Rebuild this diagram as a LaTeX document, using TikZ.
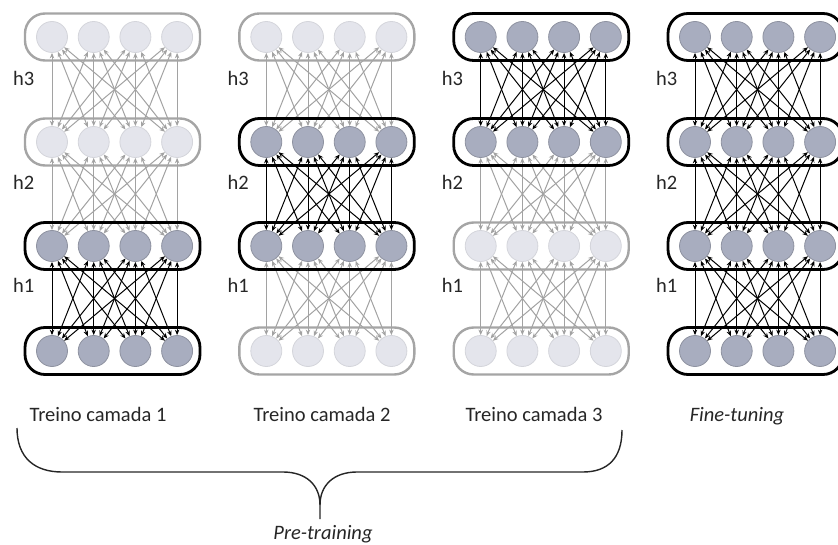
\documentclass[tikz,border=0pt]{standalone}
\usepackage{fontspec}
\setmainfont{Carlito}
\usetikzlibrary{arrows.meta}
\definecolor{actfill}{HTML}{A8ADBF}
\definecolor{actdraw}{HTML}{8E92A0}
\definecolor{fadefill}{HTML}{E4E5EC}
\definecolor{fadedraw}{HTML}{D4D5DB}
\definecolor{fadeline}{HTML}{A2A2A2}
\definecolor{fadebox}{HTML}{A5A5A5}
\definecolor{txt}{HTML}{262626}
\pgfdeclarelayer{background}
\pgfsetlayers{background,main}
\begin{document}
\begin{tikzpicture}[x=1pt,y=-1pt,
  neuron/.style={circle,minimum size=31pt,inner sep=0pt,line width=0.8pt},
  nda/.style={fill=actfill,draw=actdraw},
  ndf/.style={fill=fadefill,draw=fadedraw},
  ndst/.code={\ifnum#1=1\relax\pgfkeysalso{nda}\else\pgfkeysalso{ndf}\fi},
  layerbox/.style={rectangle,rounded corners=20pt,minimum width=175pt,minimum height=47pt,inner sep=0pt},
  bxa/.style={draw=black,line width=2.8pt},
  bxf/.style={draw=fadebox,line width=2.4pt},
  bxst/.code={\ifnum#1=1\relax\pgfkeysalso{bxa}\else\pgfkeysalso{bxf}\fi},
  lna/.style={draw=black,line width=1pt,{Stealth[length=5.5pt,width=4.5pt]}-{Stealth[length=5.5pt,width=4.5pt]}},
  lnf/.style={draw=fadeline,line width=1pt,{Stealth[length=5.5pt,width=4.5pt]}-{Stealth[length=5.5pt,width=4.5pt]}},
  lnst/.code 2 args={\ifnum#1#2=11\relax\pgfkeysalso{lna}\else\pgfkeysalso{lnf}\fi},
  hlab/.style={anchor=west,inner sep=0pt,font=\fontsize{20.5}{24}\selectfont,text=txt},
  caption/.style={anchor=base,inner sep=0pt,font=\fontsize{20.5}{24}\selectfont,text=txt},
  brace/.style={draw=black!85,line width=1.4pt}
]
\useasboundingbox (0,0) rectangle (838,545);

\foreach \c/\L/\A/\B/\C/\D in {1/25/0/0/1/1, 2/239.3/0/1/1/0, 3/453.7/1/1/0/0, 4/668/1/1/1/1}{
  \foreach \r/\y/\s in {1/37/\A, 2/142/\B, 3/246/\C, 4/351/\D}{
    \node[layerbox,bxst=\s] (b-\c-\r) at (\L+87.5,\y) {};
    \foreach \i in {1,...,4}{
      \node[neuron,ndst=\s] (n-\c-\r-\i) at ({\L+27+41.7*(\i-1)},\y) {};
    }
  }
  \begin{pgfonlayer}{background}
  \foreach \r/\rr/\s/\ss in {1/2/\A/\B, 2/3/\B/\C, 3/4/\C/\D}{
    \foreach \i in {1,...,4}{
      \foreach \j in {1,...,4}{
        \draw[lnst={\s}{\ss}] (n-\c-\r-\i) -- (n-\c-\rr-\j);
      }
    }
  }
  \end{pgfonlayer}
  \node[hlab] (h3-\c) at (\L-12,78) {h3};
  \node[hlab] (h2-\c) at (\L-12,182) {h2};
  \node[hlab] (h1-\c) at (\L-12,285) {h1};
}

\node[caption] (t1) at (98,421) {Treino camada 1};
\node[caption] (t2) at (322,421) {Treino camada 2};
\node[caption] (t3) at (534,421) {Treino camada 3};
\node[caption] (t4) at (737,421) {\itshape Fine-tuning};
\node[caption] (pt) at (323,539) {\itshape Pre-training};

\coordinate (bl) at (17,428);
\coordinate (bm) at (320,505);
\coordinate (bt) at (320,519);
\coordinate (br) at (622,430);
\draw[brace] (bl) .. controls (17,458) and (35,472) .. (62,472) -- (283,472)
  .. controls (306,472) and (320,485) .. (bm) -- (bt);
\draw[brace] (bm) .. controls (320,485) and (334,472) .. (357,472) -- (583,472)
  .. controls (608,472) and (622,458) .. (br);
\end{tikzpicture}
\end{document}
